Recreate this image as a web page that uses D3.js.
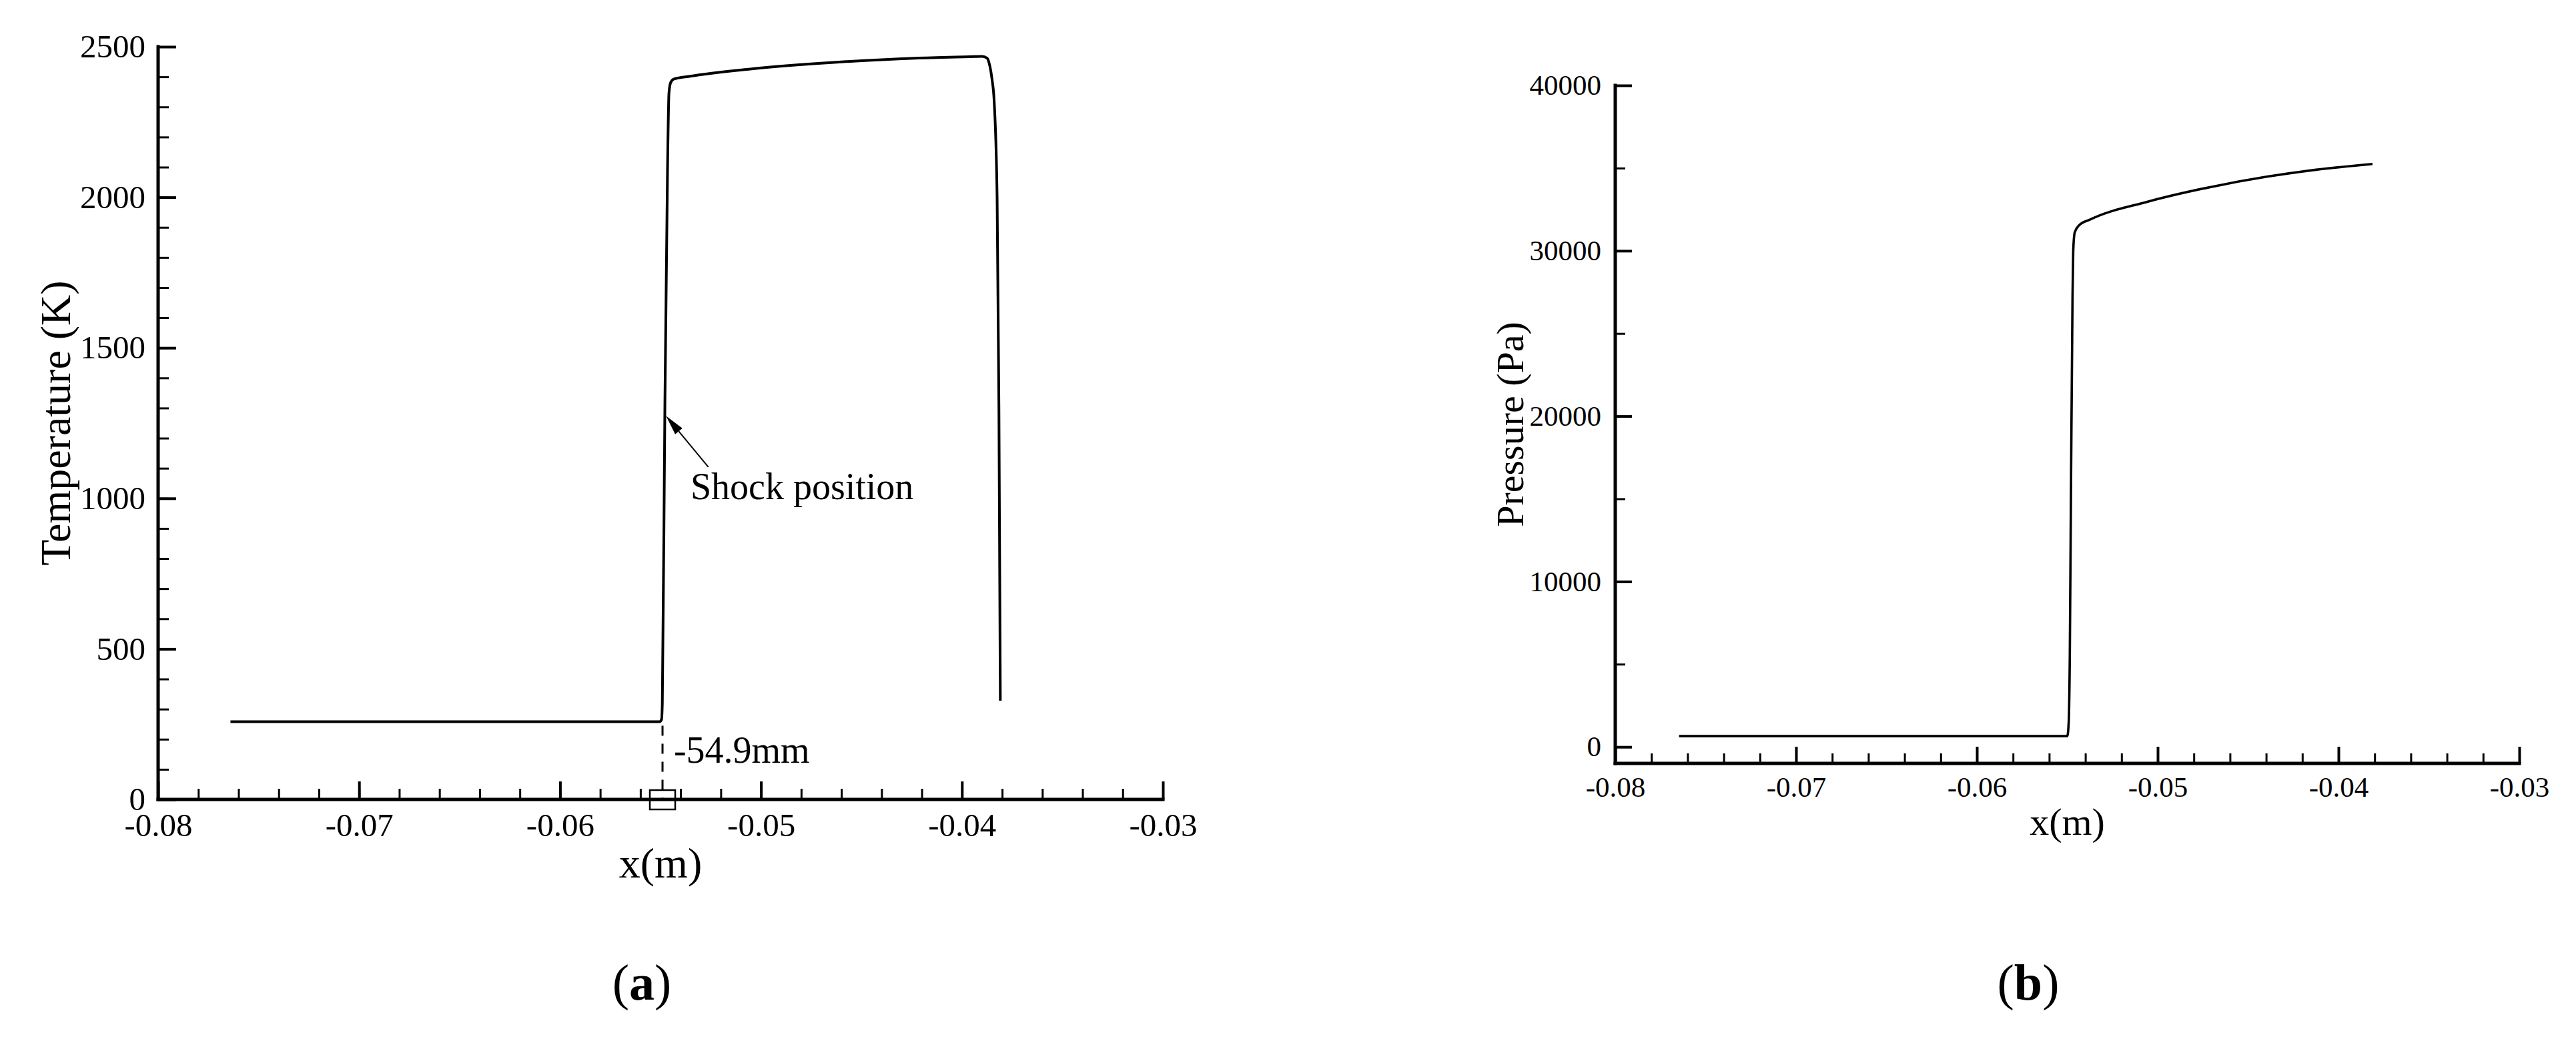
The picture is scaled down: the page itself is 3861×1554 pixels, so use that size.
<!DOCTYPE html>
<html>
<head>
<meta charset="utf-8">
<script src="https://cdn.jsdelivr.net/npm/d3@7"></script>
<style>
  body { margin: 0; background: #fff; }
  svg text { font-family: "Liberation Serif", "Times New Roman", serif; fill: #000; }
</style>
</head>
<body>
<script>

// ---- data ----
var x_ticks = [-0.08, -0.07, -0.06, -0.05, -0.04, -0.03];
var x_tick_labels = ["-0.08", "-0.07", "-0.06", "-0.05", "-0.04", "-0.03"];
var temp_ticks = [0, 500, 1000, 1500, 2000, 2500];
var pres_ticks = [0, 10000, 20000, 30000, 40000];

// temperature (K) along x (m)
var temp_x = [-0.0764, -0.05505, -0.05495, -0.05491, -0.05478, -0.05465, -0.05458, -0.05450,
              -0.05435, -0.05352, -0.05054, -0.04637, -0.04235, -0.03960, -0.03900, -0.03875,
              -0.03863, -0.03850, -0.03840, -0.03825, -0.03816, -0.03809];
var temp_y = [258, 258, 265, 319, 1325, 2100, 2345, 2380,
              2392, 2402, 2426, 2448, 2462, 2467, 2468, 2462,
              2441, 2390, 2323, 1998, 1300, 328];

// pressure (Pa) along x (m)
var pres_x = [-0.07647, -0.05500, -0.05492, -0.05486, -0.05479, -0.05471, -0.05467, -0.05459,
              -0.05436, -0.05373, -0.05061, -0.04710, -0.04397, -0.04124, -0.03812];
var pres_y = [650, 650, 1500, 5500, 16300, 27100, 30000, 31100,
              31530, 31890, 32950, 33850, 34480, 34900, 35250];

var shock_x = -0.0549;   // -54.9mm

var W = 3861, H = 1554;

var svg = d3.select("body").append("svg")
            .attr("width", W).attr("height", H);
svg.append("rect").attr("width", W).attr("height", H).style("fill", "#fff");

// draws one panel, returns its scales
function draw_panel(p) {
  var xs = d3.scaleLinear().domain([-0.08, -0.03]).range([p.left, p.right]);
  var ys = d3.scaleLinear().domain(p.ydomain).range([p.bottom, p.top]);
  var g = svg.append("g");

  // minor ticks first
  g.append("g").attr("transform", "translate(0," + p.bottom + ")")
    .call(d3.axisBottom(xs).tickValues(d3.range(-0.08, -0.0299, 0.002)).tickSize(-p.minor).tickFormat(""))
    .call(style_axis, 3);
  g.append("g").attr("transform", "translate(" + p.left + ",0)")
    .call(d3.axisLeft(ys).tickValues(p.yminor).tickSize(-p.minor).tickFormat(""))
    .call(style_axis, 3);

  // major ticks + labels
  var xa = g.append("g").attr("transform", "translate(0," + p.bottom + ")")
    .call(d3.axisBottom(xs).tickValues(x_ticks).tickSizeInner(-p.major).tickSizeOuter(0)
          .tickPadding(p.xpad).tickFormat(function(d, i) { return x_tick_labels[i]; }))
    .call(style_axis, 4);
  xa.selectAll("text").style("font-size", p.tick_font + "px");

  var ya = g.append("g").attr("transform", "translate(" + p.left + ",0)")
    .call(d3.axisLeft(ys).tickValues(p.yticks).tickSizeInner(-p.major).tickSizeOuter(0)
          .tickPadding(p.ypad).tickFormat(d3.format("d")))
    .call(style_axis, 4);
  ya.selectAll("text").style("font-size", p.tick_font + "px");

  // axis lines, drawn last so they sit on top
  g.append("line").attr("x1", p.left).attr("x2", p.right).attr("y1", p.bottom).attr("y2", p.bottom)
    .style("stroke", "#000").style("stroke-width", 5).style("stroke-linecap", "square");
  g.append("line").attr("x1", p.left).attr("x2", p.left).attr("y1", p.top).attr("y2", p.bottom)
    .style("stroke", "#000").style("stroke-width", 5).style("stroke-linecap", "square");

  // titles
  g.append("text").attr("x", (p.left + p.right) / 2).attr("y", p.xtitle_y)
    .attr("text-anchor", "middle").style("font-size", p.title_font + "px").text("x(m)");
  g.append("text")
    .attr("transform", "translate(" + p.ytitle_x + "," + (p.top + p.bottom) / 2 + ") rotate(-90)")
    .attr("text-anchor", "middle").style("font-size", p.title_font + "px").text(p.ytitle);

  // data line
  var line = d3.line()
    .x(function(d) { return xs(d[0]); })
    .y(function(d) { return ys(d[1]); })
    .curve(d3.curveMonotoneX);
  g.append("path").datum(d3.zip(p.xdata, p.ydata))
    .attr("d", line)
    .style("fill", "none").style("stroke", "#000").style("stroke-width", p.line_w)
    .style("stroke-linejoin", "round");

  // sub-figure letter
  var lab = svg.append("text").attr("x", p.letter_x).attr("y", 1498)
    .attr("text-anchor", "middle").style("font-size", "76px");
  lab.append("tspan").text("(");
  lab.append("tspan").style("font-weight", "bold").text(p.letter);
  lab.append("tspan").text(")");

  return {xs: xs, ys: ys, g: g};
}

function style_axis(sel, w) {
  sel.select(".domain").remove();
  sel.selectAll(".tick line").style("stroke", "#000").style("stroke-width", w);
}

// ---- panel (a): temperature ----
var a = draw_panel({
  left: 237, right: 1743, top: 70, bottom: 1198,
  ydomain: [0, 2500], yticks: temp_ticks, yminor: d3.range(0, 2501, 100),
  major: 27, minor: 16, xpad: 20, ypad: 19, tick_font: 49, title_font: 64,
  xtitle_y: 1315, ytitle_x: 105, ytitle: "Temperature (K)",
  xdata: temp_x, ydata: temp_y, line_w: 4, letter: "a", letter_x: 962
});

// shock marker: dashed drop line, little box on axis, label and arrow
a.g.append("line")
  .attr("x1", a.xs(shock_x)).attr("x2", a.xs(shock_x))
  .attr("y1", a.ys(245)).attr("y2", a.ys(0))
  .style("stroke", "#000").style("stroke-width", 3).style("stroke-dasharray", "15,12");
a.g.append("rect")
  .attr("x", a.xs(shock_x) - 19).attr("y", a.ys(0) - 14).attr("width", 38).attr("height", 29)
  .style("fill", "none").style("stroke", "#000").style("stroke-width", 2.5);
a.g.append("text").attr("x", a.xs(-0.05434)).attr("y", a.ys(123))
  .style("font-size", "56px").text("-54.9mm");
a.g.append("text").attr("x", a.xs(-0.05351)).attr("y", a.ys(997))
  .style("font-size", "56px").text("Shock position");

var tip = [a.xs(-0.054725), a.ys(1274)];
var tail = [a.xs(-0.05262), a.ys(1104)];
var ang = Math.atan2(tail[1] - tip[1], tail[0] - tip[0]);
var hl = 30, hw = 7;
var base = [tip[0] + hl * Math.cos(ang), tip[1] + hl * Math.sin(ang)];
a.g.append("line").attr("x1", base[0]).attr("y1", base[1]).attr("x2", tail[0]).attr("y2", tail[1])
  .style("stroke", "#000").style("stroke-width", 2);
a.g.append("path")
  .attr("d", "M" + tip[0] + "," + tip[1] +
             "L" + (base[0] - hw * Math.sin(ang)) + "," + (base[1] + hw * Math.cos(ang)) +
             "L" + (base[0] + hw * Math.sin(ang)) + "," + (base[1] - hw * Math.cos(ang)) + "Z")
  .style("fill", "#000");

// ---- panel (b): pressure ----
var b = draw_panel({
  left: 2421, right: 3776, top: 128, bottom: 1144,
  ydomain: [-1000, 40000], yticks: pres_ticks, yminor: d3.range(5000, 40000, 10000),
  major: 25, minor: 15, xpad: 19, ypad: 21, tick_font: 43, title_font: 58,
  xtitle_y: 1251, ytitle_x: 2283, ytitle: "Pressure (Pa)",
  xdata: pres_x, ydata: pres_y, line_w: 3.6, letter: "b", letter_x: 3040
});

</script>
</body>
</html>
